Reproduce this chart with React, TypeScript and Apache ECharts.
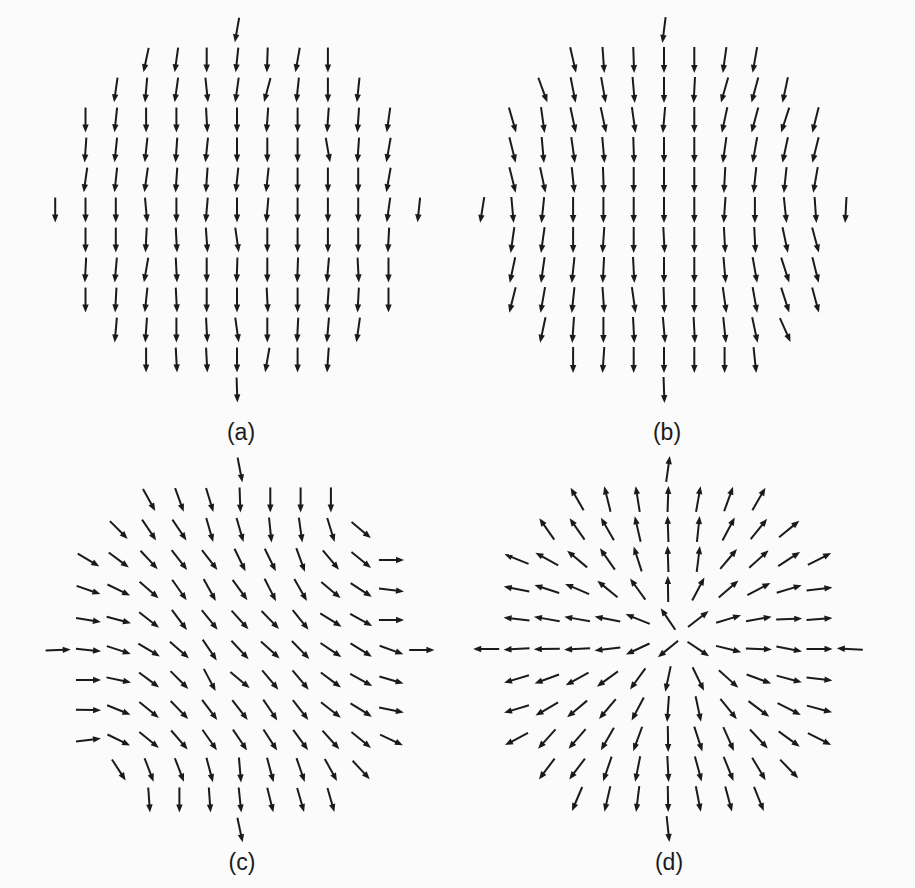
import React, { useEffect, useRef } from "react";
import * as echarts from "echarts";

// Rows run from the top of each field (y = 6) to the bottom (y = -6);
// each row holds 2*w+1 arrows centred on x = 0.
const ROW_HALF_WIDTHS = [0, 3, 4, 5, 5, 5, 6, 5, 5, 5, 4, 3, 0];

// Arrow directions in degrees (0 = pointing right, 90 = pointing up).
const ANGLES_A: number[][] = [
  [-100],
  [-102, -98, -90, -96, -92, -100, -90],
  [-98, -95, -98, -84, -98, -105, -96, -90, -96],
  [-90, -96, -90, -90, -87, -90, -94, -90, -94, -94, -98],
  [-94, -96, -96, -94, -96, -90, -90, -90, -80, -94, -100],
  [-98, -96, -98, -94, -94, -96, -96, -90, -90, -90, -100],
  [-90, -90, -90, -85, -90, -95, -90, -95, -90, -90, -90, -98, -96],
  [-90, -90, -93, -87, -86, -82, -90, -90, -90, -90, -93],
  [-93, -95, -100, -87, -90, -92, -90, -92, -95, -87, -90],
  [-90, -93, -96, -87, -90, -90, -87, -90, -94, -93, -90],
  [-95, -94, -90, -87, -82, -90, -93, -95, -98],
  [-90, -87, -87, -90, -100, -90, -94],
  [-88],
];

const ANGLES_B: number[][] = [
  [-97],
  [-77, -86, -88, -90, -90, -98, -100],
  [-70, -79, -80, -85, -90, -93, -106, -105, -102],
  [-74, -82, -78, -78, -82, -95, -90, -102, -105, -108, -104],
  [-76, -85, -82, -85, -88, -90, -90, -98, -100, -102, -104],
  [-76, -78, -84, -88, -90, -90, -90, -93, -96, -96, -100],
  [-99, -85, -96, -90, -90, -90, -90, -90, -94, -90, -84, -86, -93],
  [-98, -98, -90, -94, -90, -87, -90, -87, -87, -78, -75],
  [-102, -98, -96, -93, -87, -90, -90, -85, -80, -72, -76],
  [-104, -100, -96, -86, -82, -88, -90, -82, -80, -72, -75],
  [-102, -94, -90, -87, -85, -87, -84, -78, -66],
  [-90, -94, -90, -90, -90, -90, -84],
  [-88],
];

const ANGLES_C: number[][] = [
  [-79],
  [-61, -70, -73, -88, -90, -90, -90],
  [-45, -56, -56, -74, -74, -84, -82, -73, -40],
  [-31, -37, -47, -52, -52, -64, -64, -70, -50, -39, 0],
  [-19, -26, -41, -55, -61, -54, -63, -60, -40, -33, -7],
  [-9, -15, -38, -53, -51, -48, -46, -51, -32, -29, 0],
  [2, -6, -18, -31, -41, -56, -47, -42, -46, -34, -32, -20, 0],
  [0, -12, -37, -45, -62, -40, -50, -50, -37, -29, -16],
  [-1, -22, -39, -46, -53, -52, -56, -52, -38, -32, -11],
  [7, -26, -39, -49, -55, -56, -57, -54, -48, -39, -25],
  [-57, -69, -69, -75, -85, -75, -71, -61, -47],
  [-86, -90, -86, -84, -76, -74, -74],
  [-78],
];

const ANGLES_D: number[][] = [
  [82],
  [120, 104, 99, 88, 80, 70, 60],
  [125, 125, 120, 103, 92, 84, 62, 51, 39],
  [158, 151, 140, 125, 108, 92, 83, 50, 42, 33, 27],
  [169, 162, 157, 141, 126, 91, 62, 41, 28, 17, 7],
  [173, 170, 170, 169, 158, 124, 38, 17, 10, 2, 4],
  [180, 183, 181, 183, 187, 205, 219, -34, -14, -2, -11, 0, 177],
  [197, 200, 209, 216, 234, 258, -64, -42, -20, -15, -7],
  [197, 210, 220, 230, 242, 266, -78, -51, -37, -27, -15],
  [208, 228, 229, 240, 250, 271, -72, -66, -47, -36, -27],
  [233, 233, 251, 259, 273, -75, -68, -59, -46],
  [247, 257, 263, 271, -79, -75, -68],
  [-84],
];

// Arrow length of each field, in grid steps.
const MAGNITUDES = [0.82, 0.86, 0.83, 0.86];
const PANEL_LABELS = ["(a)", "(b)", "(c)", "(d)"];

const INK = "#1a1a1a";

function toPoints(rows: number[][]): number[][] {
  const pts: number[][] = [];
  rows.forEach((row, r) => {
    const y = 6 - r;
    const w = ROW_HALF_WIDTHS[r];
    row.forEach((ang, k) => pts.push([k - w, y, ang]));
  });
  return pts;
}

function makeArrowRenderer(mag: number) {
  return (_params: any, api: any) => {
    const c = api.coord([api.value(0), api.value(1)]);
    const unit = api.size([1, 1]);
    const L = mag * unit[0];
    const a = (api.value(2) * Math.PI) / 180;
    const ux = Math.cos(a);
    const uy = -Math.sin(a);
    const tx = c[0] - (ux * L) / 2;
    const ty = c[1] - (uy * L) / 2;
    const hx = c[0] + (ux * L) / 2;
    const hy = c[1] + (uy * L) / 2;
    const hl = 8;
    const hw = 3.2;
    const bx = hx - ux * hl;
    const by = hy - uy * hl;
    return {
      type: "group",
      children: [
        {
          type: "line",
          shape: { x1: tx, y1: ty, x2: bx + ux * 1.5, y2: by + uy * 1.5 },
          style: { stroke: INK, lineWidth: 2 },
        },
        {
          type: "polygon",
          shape: {
            points: [
              [hx, hy],
              [bx - uy * hw, by + ux * hw],
              [bx + uy * hw, by - ux * hw],
            ],
          },
          style: { fill: INK },
        },
      ],
    };
  };
}

// Centre of each field on the page and the label position beneath it.
const PANEL_BOXES = [
  { cx: 237, cy: 210, lx: 241, ly: 432 },
  { cx: 664, cy: 210, lx: 667, ly: 432 },
  { cx: 240, cy: 650, lx: 242, ly: 862 },
  { cx: 668, cy: 649, lx: 669, ly: 862 },
];

export default function App() {
  const ref = useRef<HTMLDivElement>(null);

  useEffect(() => {
    if (!ref.current) return;
    const chart = echarts.init(ref.current, null, { renderer: "svg" });
    const fields = [ANGLES_A, ANGLES_B, ANGLES_C, ANGLES_D];
    const W = 13 * 30.3;
    const H = 13 * 30;

    const grids = PANEL_BOXES.map((b) => ({
      left: b.cx - W / 2,
      top: b.cy - H / 2,
      width: W,
      height: H,
      show: false,
    }));
    const axisBase = { type: "value", min: -6.5, max: 6.5, show: false };
    const xAxis = PANEL_BOXES.map((_, i) => ({ ...axisBase, gridIndex: i }));
    const yAxis = PANEL_BOXES.map((_, i) => ({ ...axisBase, gridIndex: i }));

    const series = fields.map((rows, i) => ({
      type: "custom",
      xAxisIndex: i,
      yAxisIndex: i,
      data: toPoints(rows),
      renderItem: makeArrowRenderer(MAGNITUDES[i]),
      silent: true,
    }));

    const graphic = PANEL_BOXES.map((b, i) => ({
      type: "text",
      x: b.lx,
      y: b.ly,
      style: {
        text: PANEL_LABELS[i],
        fill: INK,
        font: "23px 'Liberation Sans', Arial, sans-serif",
        textAlign: "center",
        textVerticalAlign: "middle",
      },
    }));

    chart.setOption({
      animation: false,
      backgroundColor: "#fbfbfb",
      grid: grids,
      xAxis,
      yAxis,
      series,
      graphic,
    } as any);

    return () => chart.dispose();
  }, []);

  return (
    <div
      ref={ref}
      style={{ position: "absolute", left: 0, top: 0, width: 915, height: 888 }}
    />
  );
}
